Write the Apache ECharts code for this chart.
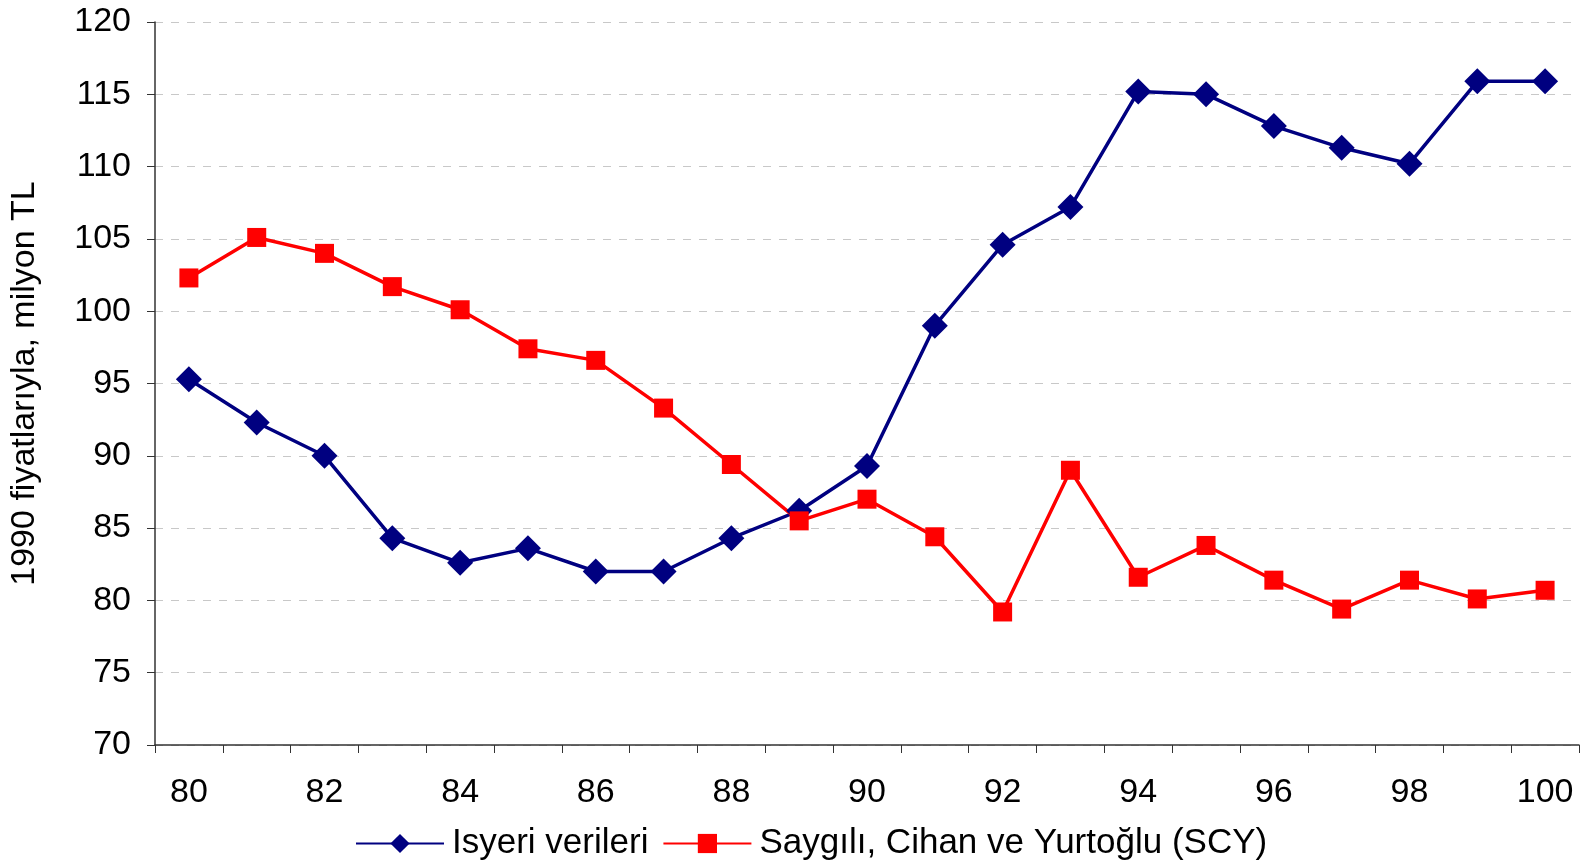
<!DOCTYPE html>
<html><head><meta charset="utf-8">
<script src="https://cdn.jsdelivr.net/npm/echarts@6/dist/echarts.min.js"></script>
<style>html,body{margin:0;padding:0;background:#fff}#c{width:1585px;height:864px}</style>
</head><body><div id="c"></div>
<script>
const categories = ['80','81','82','83','84','85','86','87','88','89','90','91','92','93','94','95','96','97','98','99','100'];
const isyeri = [95.3,92.3,90.0,84.3,82.6,83.6,82.0,82.0,84.3,86.2,89.3,99.0,104.6,107.2,115.2,115.0,112.8,111.3,110.2,115.9,115.9];
const scy = [102.3,105.1,104.0,101.7,100.1,97.4,96.6,93.3,89.4,85.5,87.0,84.4,79.2,89.0,81.6,83.8,81.4,79.4,81.4,80.1,80.7];
const seriesNames = ['Isyeri verileri','Saygılı, Cihan ve Yurtoğlu (SCY)'];
const yName = '1990 fiyatlarıyla, milyon TL';

const font = 'Liberation Sans';
const chart = echarts.init(document.getElementById('c'));
chart.setOption({
  animation: false,
  textStyle: {fontFamily: font},
  grid: {left: 155, right: 6, top: 22, bottom: 119, containLabel: false, outerBoundsMode: 'none'},
  legend: {
    top: 821, left: 350,
    itemWidth: 88, itemHeight: 24, itemGap: 14,
    textStyle: {fontFamily: font, fontSize: 35, color: '#000', padding: [0, 0, 0, 3]},
    data: seriesNames
  },
  xAxis: {
    type: 'category', data: categories, boundaryGap: true,
    axisLine: {lineStyle: {color: '#333', width: 1.5}},
    axisTick: {show: true, interval: 0, length: 8, lineStyle: {color: '#333'}},
    axisLabel: {interval: 1, fontSize: 34, color: '#000', margin: 31, fontFamily: font}
  },
  yAxis: {
    type: 'value', min: 70, max: 120, interval: 5,
    name: yName, nameLocation: 'middle', nameGap: 113, nameRotate: 90,
    nameTextStyle: {fontSize: 34, color: '#000', fontFamily: font},
    axisLine: {show: true, lineStyle: {color: '#333', width: 1.5}},
    axisTick: {show: true, length: 8, lineStyle: {color: '#333'}},
    axisLabel: {fontSize: 34, color: '#000', margin: 24, fontFamily: font},
    splitLine: {show: true, lineStyle: {type: [8, 8], color: '#c8c8c8', width: 1}}
  },
  series: [
    {name: seriesNames[0], type: 'line', data: isyeri, symbol: 'diamond', symbolSize: 26,
     itemStyle: {color: '#000080'}, lineStyle: {color: '#000080', width: 3.5}},
    {name: seriesNames[1], type: 'line', data: scy, symbol: 'rect', symbolSize: 19,
     itemStyle: {color: '#ff0000'}, lineStyle: {color: '#ff0000', width: 3.5}}
  ]
});
</script></body></html>
